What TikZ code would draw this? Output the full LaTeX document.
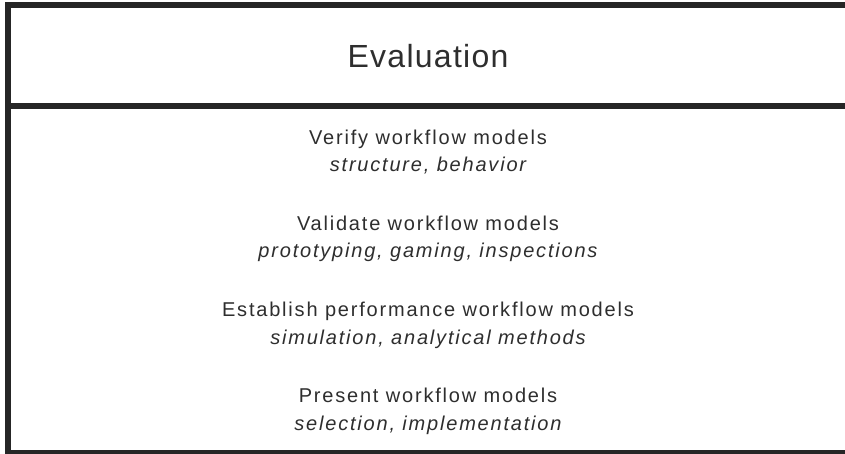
\documentclass[tikz,border=0pt]{standalone}
\usepackage{fontspec}
\setmainfont{Liberation Sans}
\newfontfamily\hdfont[LetterSpace=4]{Liberation Sans}
\newfontfamily\bdfont[LetterSpace=9]{Liberation Sans}
\definecolor{frame}{HTML}{262626}
\definecolor{ink}{HTML}{2E2E2E}
\tikzset{
  frameline/.style={draw=frame, line width=5.5pt},
  headtext/.style={anchor=base, inner sep=0pt, text=ink, font=\hdfont\fontsize{32}{38}\selectfont},
  maintext/.style={anchor=base, inner sep=0pt, text=ink, font=\bdfont\fontsize{20}{24}\selectfont},
  subtext/.style={anchor=base, inner sep=0pt, text=ink, font=\bdfont\itshape\fontsize{20}{24}\selectfont},
}
\begin{document}
\begin{tikzpicture}[x=1pt,y=-1pt]
\useasboundingbox (0,0) rectangle (845,453);
\fill[white] (0,0) rectangle (845,453);
% frame
\draw[frameline] (860,5) -- (8,5) -- (8,452.5) -- (860,452.5);
\draw[frameline] (8,106) -- (860,106);
% header
\node[headtext] (title) at (428,67) {Evaluation};
% body
\node[maintext] (v1) at (428,144) {Verify workflow models};
\node[subtext]  (v2) at (428,171.5) {structure, behavior};
\node[maintext] (a1) at (428,230) {Validate workflow models};
\node[subtext]  (a2) at (428,257.5) {prototyping, gaming, inspections};
\node[maintext] (e1) at (428,316.5) {Establish performance workflow models};
\node[subtext]  (e2) at (428,344) {simulation, analytical methods};
\node[maintext] (p1) at (428,402.5) {Present workflow models};
\node[subtext]  (p2) at (428,430) {selection, implementation};
\end{tikzpicture}
\end{document}
